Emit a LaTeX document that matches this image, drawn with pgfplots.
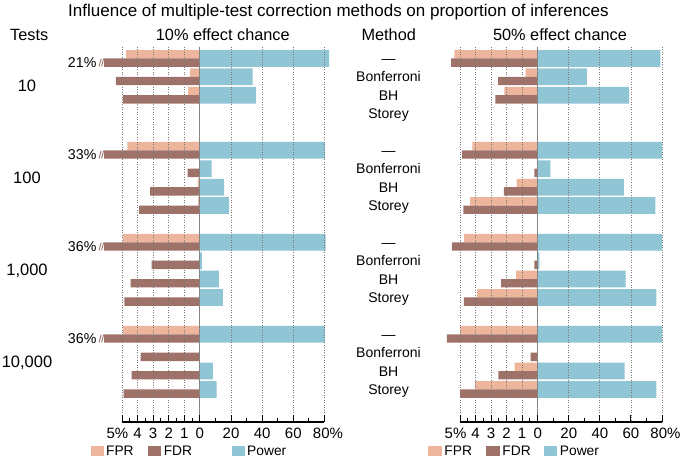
\documentclass[border=0pt]{standalone}
\usepackage{fontspec}
\setmainfont{Liberation Sans}
\usepackage{pgfplots}
\usepackage{pgfplotstable}
\pgfplotsset{compat=1.18}

\definecolor{fpr}{RGB}{236,181,156}
\definecolor{fdr}{RGB}{158,114,104}
\definecolor{pow}{RGB}{143,197,212}
\definecolor{zline}{RGB}{140,140,140}
\definecolor{grd}{RGB}{120,120,120}

% 10% effect chance: row, FPR (%), FDR (%), Power (%)
\pgfplotstableread{
row fpr fdr power
0 4.74 21 82.9
1 0.64 5.4 33.9
2 0.75 4.95 36.0
5 4.66 33 80.3
6 0 0.79 7.5
7 0.15 3.2 15.6
8 0.12 3.9 18.6
10 4.95 36 80.8
11 0 3.1 1.3
12 0 4.44 12.2
13 0 4.85 14.8
15 4.95 36 80.3
16 0 3.8 0
17 0 4.38 8.4
18 0 4.9 10.7
}\lowtab

% 50% effect chance
\pgfplotstableread{
row fpr fdr power
0 5.37 5.57 78.9
1 0.77 2.55 31.6
2 2.14 2.72 58.7
5 4.2 4.86 80
6 0 0.21 8.2
7 1.35 2.18 55.5
8 4.35 4.78 75.7
10 4.73 5.52 80
11 0 0.21 1.1
12 1.39 2.36 56.6
13 3.9 4.75 76.3
15 5.0 5.85 80
16 0 0.45 0
17 1.48 2.53 55.9
18 4.05 5.0 76.3
}\hightab

\newcommand\fs[1]{\fontsize{#1}{#1}\selectfont}
\tikzset{lbl/.style={inner sep=0pt, text depth=0pt}}

\pgfplotsset{panel/.style={
  scale only axis, height=375pt,
  xmin=-50, xmax=80, ymin=-0.62, ymax=19.77, y dir=reverse,
  axis x line*=bottom, axis y line=none, ytick=\empty,
  xtick={-50,-40,-30,-20,-10,0,20,40,60,80},
  xticklabels={5\%\kern9pt\relax,4,3,2,1,0,20,40,60,\kern7pt 80\%},
  minor xtick={-45,-35,-25,-15,-5,10,30,50,70},
  xtick align=inside,
  major tick length=6.5pt, minor tick length=4pt,
  tick style={black, line width=0.9pt},
  axis line style={black, line width=1.1pt},
  xmajorgrids,
  major grid style={grd, line width=0.8pt, dash pattern=on 1pt off 1.5pt},
  axis on top, clip=false,
  /pgf/number format/assume math mode=true,
  xticklabel style={font=\fs{15}, anchor=base, yshift=-16.5pt, inner sep=0pt},
  legend style={draw=none, fill=none, inner sep=0pt, outer sep=0pt, anchor=west,
    font=\fs{13.8}, nodes={inner sep=0pt, text depth=0pt}, column sep=0pt},
  legend columns=3,
}}

\begin{document}
\begin{tikzpicture}
\path[use as bounding box] (0,0) rectangle (685pt,462pt);

\begin{axis}[panel, at={(122pt,40pt)}, anchor=south west, width=202.5pt,
  legend style={at={(-0.1546,-0.0773)}}]
\addplot[xbar, bar width=0.455, bar shift=0pt, fill=fpr, draw=none, forget plot]
  table[x expr={-10*\thisrow{fpr}}, y expr={\thisrow{row}-0.2275}]{\lowtab};
\addplot[xbar, bar width=0.455, bar shift=0pt, fill=fdr, draw=none, forget plot]
  table[x expr={-10*min(\thisrow{fdr},6.15)}, y expr={\thisrow{row}+0.2275}]{\lowtab};
\addplot[xbar, bar width=0.91, bar shift=0pt, fill=pow, draw=none, forget plot]
  table[x=power, y=row]{\lowtab};
\draw[zline, line width=0.9pt] (axis cs:0,-0.62) -- (axis cs:0,19.77);
% broken-bar marks and values
\foreach \r/\v in {0/21,5/33,10/36,15/36}{
  \edef\tmp{\noexpand\draw[fdr, line width=0.9pt] (axis cs:-64.7,\r+0.4375) -- (axis cs:-63.4,\r+0.0175);
  \noexpand\draw[fdr, line width=0.9pt] (axis cs:-63.1,\r+0.4375) -- (axis cs:-61.8,\r+0.0175);
  \noexpand\node[lbl, anchor=east, font=\noexpand\fs{14.2}, text height=10.2pt] at (axis cs:-66.3,\r+0.2275) {\v\noexpand\%};}
  \tmp
}
% test counts
\node[lbl, font=\fs{16.5}, text height=11.8pt] at (axis cs:-111,1.5) {10};
\node[lbl, font=\fs{16.5}, text height=11.8pt] at (axis cs:-111,6.5) {100};
\node[lbl, font=\fs{16.5}, text height=11.8pt] at (axis cs:-111,11.5) {1,000};
\node[lbl, font=\fs{16.5}, text height=11.8pt] at (axis cs:-111,16.5) {10,000};
\addlegendimage{legend image code/.code={\fill[fpr] (0pt,-4.5pt) rectangle (12pt,4.5pt);}}
\addlegendentry{\makebox[45.3pt][l]{\hspace{3pt}FPR}}
\addlegendimage{legend image code/.code={\fill[fdr] (0pt,-4.5pt) rectangle (12pt,4.5pt);}}
\addlegendentry{\makebox[71pt][l]{\hspace{3pt}FDR}}
\addlegendimage{legend image code/.code={\fill[pow] (0pt,-4.5pt) rectangle (12pt,4.5pt);}}
\addlegendentry{\hspace{3pt}Power}
\end{axis}

\begin{axis}[panel, at={(460pt,40pt)}, anchor=south west, width=202pt,
  legend style={at={(-0.157,-0.0773)}}]
\addplot[xbar, bar width=0.455, bar shift=0pt, fill=fpr, draw=none, forget plot]
  table[x expr={-10*\thisrow{fpr}}, y expr={\thisrow{row}-0.2275}]{\hightab};
\addplot[xbar, bar width=0.455, bar shift=0pt, fill=fdr, draw=none, forget plot]
  table[x expr={-10*\thisrow{fdr}}, y expr={\thisrow{row}+0.2275}]{\hightab};
\addplot[xbar, bar width=0.91, bar shift=0pt, fill=pow, draw=none, forget plot]
  table[x=power, y=row]{\hightab};
\draw[zline, line width=0.9pt] (axis cs:0,-0.62) -- (axis cs:0,19.77);
\foreach \g in {0,5,10,15}{
  \edef\tmp{\noexpand\node[lbl, font=\noexpand\fs{14}, text height=10pt] at (axis cs:-96,\g) {---};
  \noexpand\node[lbl, font=\noexpand\fs{14}, text height=10pt] at (axis cs:-96,\g+1) {Bonferroni};
  \noexpand\node[lbl, font=\noexpand\fs{14}, text height=10pt] at (axis cs:-96,\g+2) {BH};
  \noexpand\node[lbl, font=\noexpand\fs{14}, text height=10pt] at (axis cs:-96,\g+3) {Storey};}
  \tmp
}
\addlegendimage{legend image code/.code={\fill[fpr] (0pt,-4.5pt) rectangle (12.7pt,4.5pt);}}
\addlegendentry{\makebox[45pt][l]{\hspace{3pt}FPR}}
\addlegendimage{legend image code/.code={\fill[fdr] (0pt,-4.5pt) rectangle (12.7pt,4.5pt);}}
\addlegendentry{\makebox[44.3pt][l]{\hspace{3pt}FDR}}
\addlegendimage{legend image code/.code={\fill[pow] (0pt,-4.5pt) rectangle (12.7pt,4.5pt);}}
\addlegendentry{\hspace{3pt}Power}
\end{axis}

\node[lbl, font=\fs{17}, text height=12.2pt] at (338.5pt,451.2pt) {Influence of multiple-test correction methods on proportion of inferences};
\node[lbl, anchor=west, font=\fs{16.3}, text height=11.7pt] at (10pt,427pt) {Tests};
\node[lbl, font=\fs{16.3}, text height=11.7pt] at (222.8pt,427pt) {10\% effect chance};
\node[lbl, font=\fs{16.3}, text height=11.7pt] at (388.7pt,427pt) {Method};
\node[lbl, font=\fs{16.3}, text height=11.7pt] at (560pt,427pt) {50\% effect chance};
\end{tikzpicture}
\end{document}
